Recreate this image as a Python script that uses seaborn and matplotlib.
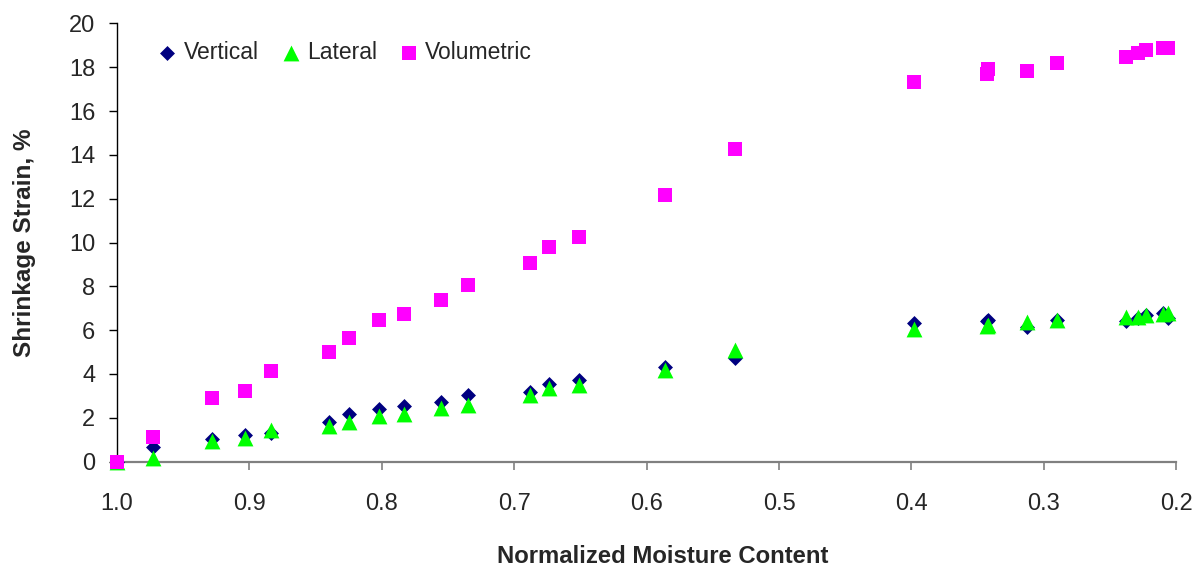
import matplotlib

matplotlib.use("Agg")

import matplotlib.pyplot as plt
import pandas as pd
import seaborn as sns

# Normalized moisture content (x) shared by all three series
moisture = [1.000, 0.973, 0.928, 0.903, 0.884, 0.840, 0.825, 0.802, 0.783, 0.755,
            0.735, 0.688, 0.674, 0.651, 0.586, 0.533, 0.398, 0.343, 0.342, 0.313,
            0.290, 0.238, 0.229, 0.223, 0.210, 0.206]

vertical = [0.0, 0.68, 1.01, 1.21, 1.30, 1.82, 2.17, 2.38, 2.53, 2.72,
            3.04, 3.17, 3.52, 3.72, 4.30, 4.72, 6.31, 6.43, 6.45, 6.16,
            6.46, 6.43, 6.54, 6.69, 6.77, 6.54]

lateral = [0.0, 0.15, 0.94, 1.07, 1.45, 1.63, 1.82, 2.10, 2.18, 2.43,
           2.58, 3.05, 3.34, 3.49, 4.18, 5.08, 6.03, 6.17, 6.25, 6.38,
           6.48, 6.61, 6.60, 6.70, 6.73, 6.77]

volumetric = [0.0, 1.10, 2.90, 3.23, 4.15, 4.99, 5.63, 6.46, 6.75, 7.37,
              8.05, 9.06, 9.81, 10.26, 12.18, 14.28, 17.34, 17.68, 17.90, 17.84,
              18.18, 18.45, 18.64, 18.79, 18.89, 18.90]

series_names = ["Vertical", "Lateral", "Volumetric"]
series_values = [vertical, lateral, volumetric]
x_ticks = [1.0, 0.9, 0.8, 0.7, 0.6, 0.5, 0.4, 0.3, 0.2]
y_ticks = [0, 2, 4, 6, 8, 10, 12, 14, 16, 18, 20]

styles = {
    "Vertical": dict(color="#000080", marker="D", s=58),
    "Lateral": dict(color="#00FF00", marker="^", s=130),
    "Volumetric": dict(color="#FF00FF", marker="s", s=112),
}

sns.set_style("ticks")
plt.rcParams["font.family"] = ["Liberation Sans", "DejaVu Sans"]

fig = plt.figure(figsize=(11.99, 5.67), dpi=100)
ax = fig.add_axes([0.0976, 0.186, 0.8834, 0.7726])

for name, values in zip(series_names, series_values):
    df = pd.DataFrame({"Moisture": moisture, "Strain": values})
    st = styles[name]
    sns.scatterplot(data=df, x="Moisture", y="Strain", ax=ax, color=st["color"],
                    marker=st["marker"], s=st["s"], linewidth=0, label=name,
                    clip_on=False, zorder=3)

ax.set_xlim(1.0, 0.2)
ax.set_ylim(0, 20)
ax.set_xticks(x_ticks)
ax.set_xticklabels([f"{t:.1f}" for t in x_ticks])
ax.set_yticks(y_ticks)
ax.set_yticklabels([str(t) for t in y_ticks])

ax.spines["top"].set_visible(False)
ax.spines["right"].set_visible(False)
ax.spines["left"].set_color("black")
ax.spines["left"].set_linewidth(1.0)
ax.spines["bottom"].set_color("#808080")
ax.spines["bottom"].set_linewidth(1.6)

ax.tick_params(axis="y", direction="out", length=5.5, width=1.0, color="black",
               labelsize=17, pad=10)
ax.tick_params(axis="x", direction="out", length=6, width=1.2, color="#808080",
               labelsize=17, pad=17)

ax.set_xlabel("Normalized Moisture Content", fontsize=17.2, fontweight="bold")
ax.xaxis.set_label_coords(0.515, -0.19)
ax.set_ylabel("Shrinkage Strain, %", fontsize=17.5, fontweight="bold", labelpad=24)

ax.legend(loc="center left", bbox_to_anchor=(0.039, 0.933), ncol=3, frameon=False,
          fontsize=16.5, handlelength=0.8, handletextpad=0.3, columnspacing=1.0,
          borderaxespad=0, borderpad=0)

fig.savefig("out.png", dpi=100)
plt.close(fig)
